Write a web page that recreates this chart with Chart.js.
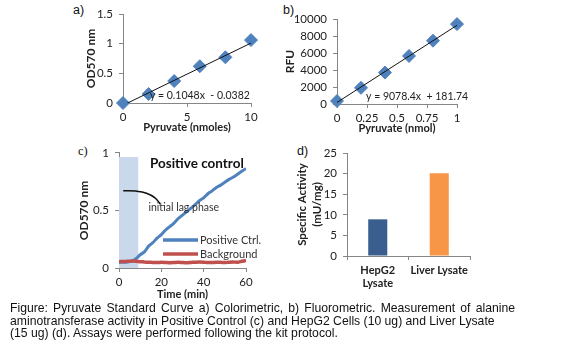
<!DOCTYPE html>
<html>
<head>
<meta charset="utf-8">
<script src="https://cdn.jsdelivr.net/npm/chart.js@4.4.1/dist/chart.umd.min.js"></script>
<style>
  html, body { margin: 0; padding: 0; background: #fff; }
  #page { position: relative; width: 583px; height: 362px; overflow: hidden; font-family: 'Liberation Sans', Arial, sans-serif; }
  .panel { position: absolute; }
  .tag { position: absolute; font-size: 12.5px; color: #111; line-height: 14px; }
  .caption { position: absolute; left: 10px; font-size: 12.2px; line-height: 12.5px; color: #111; white-space: nowrap; }
  .justify { width: 505px; text-align: justify; text-align-last: justify; white-space: normal; }
</style>
</head>
<body>
<div id="page">
  <div class="tag" style="left:73px; top:3px;">a)</div>
  <div class="tag" style="left:283px; top:3px;">b)</div>
  <div class="tag" style="left:78px; top:144px; font-family:'Liberation Serif', serif;">c)</div>
  <div class="tag" style="left:297px; top:144px;">d)</div>

  <div class="panel" style="left:60px; top:0px;"><canvas id="chart-a" width="215" height="138"></canvas></div>
  <div class="panel" style="left:280px; top:0px;"><canvas id="chart-b" width="210" height="138"></canvas></div>
  <div class="panel" style="left:60px; top:140px;"><canvas id="chart-c" width="215" height="162"></canvas></div>
  <div class="panel" style="left:290px; top:140px;"><canvas id="chart-d" width="200" height="160"></canvas></div>

  <div class="caption justify" style="top:302px;">Figure: Pyruvate Standard Curve a) Colorimetric, b) Fluorometric. Measurement of alanine</div>
  <div class="caption" style="top:314.5px;">aminotransferase activity in Positive Control (c) and HepG2 Cells (10 ug) and Liver Lysate</div>
  <div class="caption" style="top:327px;">(15 ug) (d). Assays were performed following the kit protocol.</div>
</div>

<script>
/* ── a) colorimetric standard curve ── */
const colorNmoles = [0, 2, 4, 6, 8, 10];
const colorOD     = [0, 0.15, 0.37, 0.62, 0.77, 1.06];
const colorFitX   = [0, 10];
const colorFitY   = [-0.038, 1.01];

/* ── b) fluorometric standard curve ── */
const fluoNmol  = [0, 0.2, 0.4, 0.6, 0.8, 1.0];
const fluoRFU   = [350, 1900, 3700, 5650, 7450, 9400];
const fluoFitX  = [0, 1];
const fluoFitY  = [182, 9260];

/* ── c) positive control kinetics ── */
const timeMin = [0, 2, 4, 6, 8, 10, 12, 14, 16, 18, 20, 22, 24, 26, 28, 30,
                 32, 34, 36, 38, 40, 42, 44, 46, 48, 50, 52, 54, 56, 58, 60];
const positiveOD = [0.05, 0.05, 0.052, 0.06, 0.08, 0.115, 0.14, 0.19, 0.22, 0.26, 0.29,
                    0.33, 0.36, 0.39, 0.43, 0.46, 0.49, 0.52, 0.55, 0.585, 0.61,
                    0.645, 0.67, 0.70, 0.72, 0.745, 0.77, 0.79, 0.815, 0.84, 0.865];
const backgroundOD = [0.055, 0.057, 0.058, 0.06, 0.058, 0.055, 0.052, 0.05, 0.048, 0.047, 0.05,
                      0.048, 0.046, 0.048, 0.05, 0.047, 0.045, 0.048, 0.05, 0.052, 0.05,
                      0.047, 0.048, 0.05, 0.049, 0.047, 0.05, 0.052, 0.05, 0.058, 0.065];
const lagPhaseX   = [0, 9.2];
const lagPhaseTop = [0.965, 0.965];
const pointerX = [2, 8, 13, 17, 19.5];
const pointerY = [0.672, 0.668, 0.65, 0.61, 0.555];

/* ── d) specific activity ── */
const lysateLabels   = [['HepG2', 'Lysate'], 'Liver Lysate'];
const lysateActivity = [8.9, 20.1];
const lysateColors   = ['#3a5f8f', '#f79646'];

const AXIS_GREY = '#868686';
const TXT = '#222';
Chart.defaults.font.family = 'Lato, sans-serif';
Chart.defaults.color = TXT;

const pts = (xs, ys) => xs.map((x, i) => ({ x, y: ys[i] }));

/* text notes placed in data coordinates */
const notesPlugin = {
  id: 'notes',
  afterDatasetsDraw(chart, args, opts) {
    const { ctx, scales } = chart;
    (opts.items || []).forEach(n => {
      ctx.save();
      ctx.font = n.font;
      ctx.fillStyle = n.color || TXT;
      ctx.textAlign = 'left';
      ctx.textBaseline = 'middle';
      ctx.fillText(n.text, scales.x.getPixelForValue(n.x), scales.y.getPixelForValue(n.y));
      ctx.restore();
    });
  }
};

/* small inside legend for panel c */
const insideLegend = {
  id: 'insideLegend',
  afterDatasetsDraw(chart, args, opts) {
    if (!opts.show) return;
    const { ctx, chartArea } = chart;
    const items = chart.data.datasets.filter(d => d.inLegend);
    items.forEach((d, i) => {
      const y = chartArea.bottom - opts.fromBottom + i * opts.row;
      const x0 = chartArea.left + opts.fromLeft;
      ctx.save();
      ctx.strokeStyle = d.borderColor;
      ctx.lineWidth = 3.5;
      ctx.beginPath();
      ctx.moveTo(x0, y);
      ctx.lineTo(x0 + opts.lineLen, y);
      ctx.stroke();
      ctx.font = '11px Lato, sans-serif';
      ctx.fillStyle = '#333';
      ctx.textBaseline = 'middle';
      ctx.fillText(d.label, x0 + opts.lineLen + 2, y);
      ctx.restore();
    });
  }
};

function axis(opts) {
  return {
    type: 'linear',
    min: opts.min, max: opts.max,
    grid: { display: true, drawOnChartArea: false, drawTicks: true, tickLength: 4, color: AXIS_GREY },
    border: { display: true, color: AXIS_GREY },
    ticks: { stepSize: opts.step, padding: opts.pad, font: { size: 11.5 }, color: TXT,
             callback: opts.cb || (v => String(v)) },
    title: { display: true, text: opts.title, font: { size: opts.titleSize || 11, weight: 'bold' },
             color: TXT, padding: opts.titlePad },
    afterFit: s => { if (opts.w) s.width = opts.w; if (opts.h) s.height = opts.h; },
  };
}

function noLegend() {
  return { legend: { display: false }, tooltip: { enabled: false } };
}

/* ── a ── */
new Chart(document.getElementById('chart-a'), {
  type: 'scatter',
  data: {
    datasets: [
      { data: pts(colorFitX, colorFitY), type: 'line', showLine: true, borderColor: '#111',
        borderWidth: 1, pointRadius: 0, order: 0 },
      { data: pts(colorNmoles, colorOD), pointStyle: 'rectRot', pointRadius: 6.5,
        backgroundColor: '#4f81bd', borderColor: '#4f81bd', clip: false, order: 1 },
    ],
  },
  options: {
    responsive: false, animation: false,
    layout: { padding: { top: 14, right: 24, left: 0, bottom: 0 } },
    plugins: { ...noLegend(),
      notes: { items: [{ text: 'y = 0.1048x  - 0.0382', x: 2.1, y: 0.118, font: '10.5px Lato, sans-serif' }] } },
    scales: {
      x: axis({ min: 0, max: 10, step: 5, pad: 3, title: 'Pyruvate (nmoles)', titlePad: { top: 0, bottom: 4 }, h: 35 }),
      y: axis({ min: 0, max: 1.5, step: 0.5, pad: 6, title: 'OD570 nm', titleSize: 12, titlePad: { top: 24, bottom: 0 }, w: 63 }),
    },
  },
  plugins: [notesPlugin],
});

/* ── b ── */
new Chart(document.getElementById('chart-b'), {
  type: 'scatter',
  data: {
    datasets: [
      { data: pts(fluoFitX, fluoFitY), type: 'line', showLine: true, borderColor: '#111',
        borderWidth: 1, pointRadius: 0, order: 0 },
      { data: pts(fluoNmol, fluoRFU), pointStyle: 'rectRot', pointRadius: 6.5,
        backgroundColor: '#4f81bd', borderColor: '#4f81bd', clip: false, order: 1 },
    ],
  },
  options: {
    responsive: false, animation: false,
    layout: { padding: { top: 19, right: 33, left: 0, bottom: 0 } },
    plugins: { ...noLegend(),
      notes: { items: [{ text: 'y = 9078.4x  + 181.74', x: 0.242, y: 824, font: '10.5px Lato, sans-serif' }] } },
    scales: {
      x: axis({ min: 0, max: 1, step: 0.25, pad: 3, title: 'Pyruvate (nmol)', titlePad: { top: 0, bottom: 3 }, h: 34 }),
      y: axis({ min: 0, max: 10000, step: 2000, pad: 6, title: 'RFU', titleSize: 12, titlePad: { top: 3, bottom: 0 }, w: 57 }),
    },
  },
  plugins: [notesPlugin],
});

/* ── c ── */
new Chart(document.getElementById('chart-c'), {
  type: 'line',
  data: {
    datasets: [
      { data: pts(lagPhaseX, lagPhaseTop), fill: 'origin', backgroundColor: '#c9d8eb',
        borderWidth: 0, pointRadius: 0, order: 5 },
      { label: 'Positive Ctrl.', inLegend: true, data: pts(timeMin, positiveOD),
        borderColor: '#4f81bd', borderWidth: 3, pointRadius: 0, tension: 0.2, order: 2 },
      { label: 'Background', inLegend: true, data: pts(timeMin, backgroundOD),
        borderColor: '#c0504d', borderWidth: 3.5, pointRadius: 0, tension: 0.2, order: 1 },
      { data: pts(pointerX, pointerY), borderColor: '#111', borderWidth: 1.5,
        pointRadius: 0, tension: 0.4, order: 0 },
    ],
  },
  options: {
    responsive: false, animation: false,
    layout: { padding: { top: 12, right: 29, left: 0, bottom: 0 } },
    plugins: { ...noLegend(),
      notes: { items: [
        { text: 'Positive control', x: 14.6, y: 0.905, font: 'bold 13.5px Lato, sans-serif', color: '#111' },
        { text: 'initial lag phase', x: 13.9, y: 0.523, font: '10.5px Lato, sans-serif', color: '#333' },
      ] },
      insideLegend: { show: true, fromLeft: 44, fromBottom: 28, row: 14, lineLen: 35 } },
    scales: {
      x: axis({ min: 0, max: 60, step: 20, pad: 3, title: 'Time (min)', titlePad: { top: 0, bottom: 1 }, h: 34 }),
      y: axis({ min: 0, max: 1, step: 0.5, pad: 6, title: 'OD570 nm', titleSize: 12, titlePad: { top: 17, bottom: 0 }, w: 59 }),
    },
  },
  plugins: [notesPlugin, insideLegend],
});

/* ── d ── */
new Chart(document.getElementById('chart-d'), {
  type: 'bar',
  data: {
    labels: lysateLabels,
    datasets: [{ data: lysateActivity, backgroundColor: lysateColors,
                 categoryPercentage: 1, barPercentage: 0.31 }],
  },
  options: {
    responsive: false, animation: false,
    layout: { padding: { top: 13, right: 20, left: 0, bottom: 0 } },
    plugins: noLegend(),
    scales: {
      x: {
        grid: { display: true, drawOnChartArea: false, drawTicks: true, tickLength: 4, color: AXIS_GREY, offset: true },
        border: { display: true, color: AXIS_GREY },
        ticks: { padding: 4, font: { size: 11, weight: 'bold' }, color: TXT, maxRotation: 0 },
        afterFit: s => { s.height = 44; },
      },
      y: {
        ...axis({ min: 0, max: 25, step: 5, pad: 6, title: '', titlePad: 0, w: 57 }),
        title: { display: true, text: ['Specific Activity', '(mU/mg)'], color: TXT,
                 font: { size: 11.5, weight: 'bold', lineHeight: 1.3 }, padding: { top: 4.6, bottom: 0 } },
      },
    },
  },
});
</script>
</body>
</html>
